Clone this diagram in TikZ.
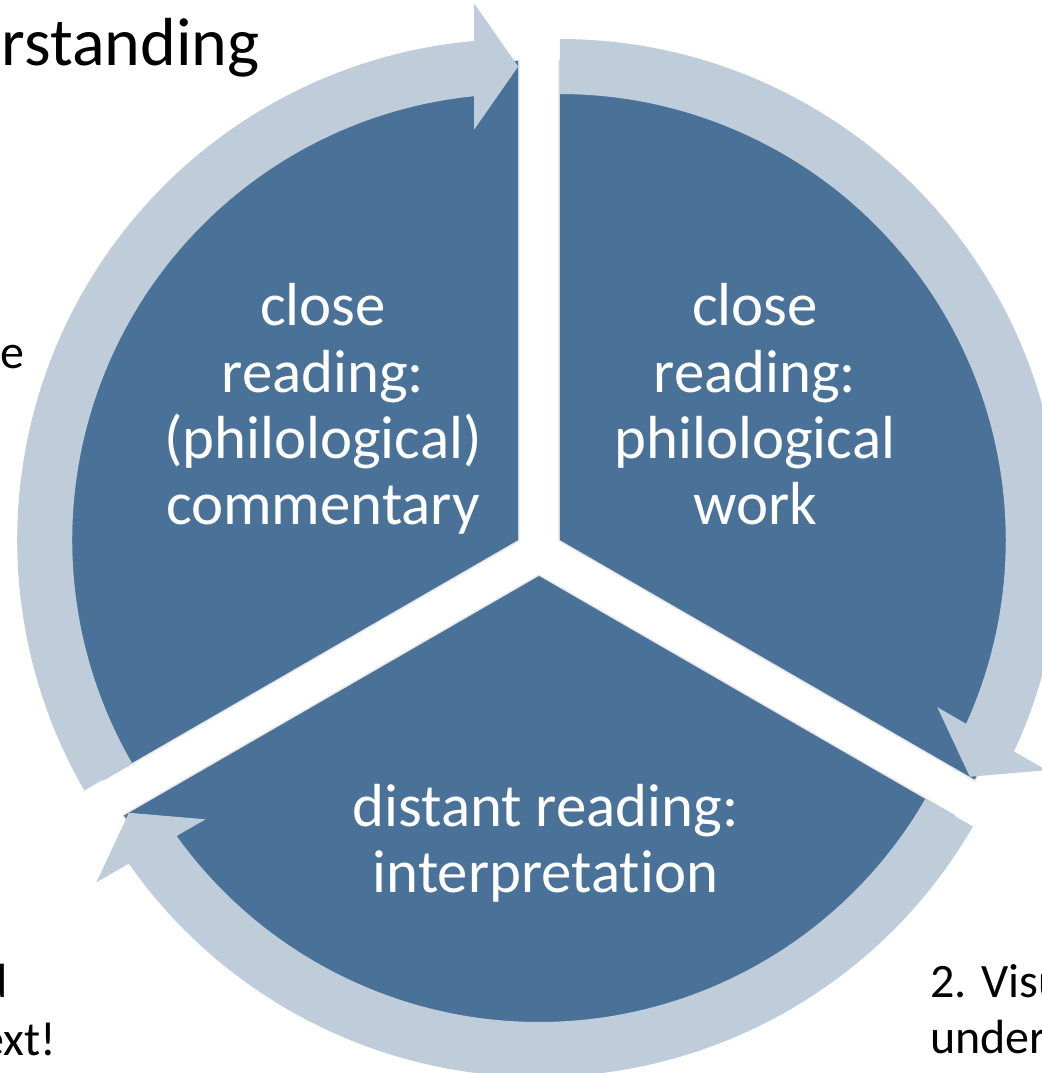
\documentclass[tikz,border=0pt]{standalone}
\usepackage{fontspec}
\setmainfont{Carlito}[Ligatures=NoCommon]

\definecolor{wedgeblue}{RGB}{74,114,152}
\definecolor{ringblue}{RGB}{191,205,218}

\tikzset{
    wedge/.style={fill=wedgeblue, preaction={draw=black!10, line width=1.5pt}},
    ring/.style={fill=ringblue},
    wedgetext/.style={text=white, align=center, inner sep=0pt, font=\fontsize{30.4}{33.2}\selectfont},
    sidetext/.style={text=black, inner sep=0pt, font=\fontsize{24}{28}\selectfont},
    titletext/.style={text=black, inner sep=0pt, font=\fontsize{34}{40}\selectfont}
}

\begin{document}
\begin{tikzpicture}[x=0.5pt, y=0.5pt]
        \useasboundingbox (-539,-521) rectangle (502,552);

        % wedges
        \begin{scope}[rotate=0, shift={(150:24)}]
            \path[wedge] (0,0) -- (90:479) arc[start angle=90, end angle=210, radius=479] -- cycle;
        \end{scope}
        \begin{scope}[rotate=-120, shift={(150:24)}]
            \path[wedge] (0,0) -- (90:479) arc[start angle=90, end angle=210, radius=479] -- cycle;
        \end{scope}
        \begin{scope}[rotate=120, shift={(150:24)}]
            \path[wedge] (0,0) -- (90:479) arc[start angle=90, end angle=210, radius=479] -- cycle;
        \end{scope}

        % arrows round the wedges
        \begin{scope}[rotate=0, shift={(150:24)}]
            \path[ring] (210:501) arc[start angle=210, end angle=95.04, radius=501]
                -- (-44,536.5) -- (0,473.5) -- (-44,410.5)
                -- (95.66:446) arc[start angle=95.66, end angle=210, radius=446] -- cycle;
        \end{scope}
        \begin{scope}[rotate=-120, shift={(150:24)}]
            \path[ring] (210:501) arc[start angle=210, end angle=95.04, radius=501]
                -- (-44,536.5) -- (0,473.5) -- (-44,410.5)
                -- (95.66:446) arc[start angle=95.66, end angle=210, radius=446] -- cycle;
        \end{scope}
        \begin{scope}[rotate=120, shift={(150:24)}]
            \path[ring] (210:501) arc[start angle=210, end angle=95.04, radius=501]
                -- (-44,536.5) -- (0,473.5) -- (-44,410.5)
                -- (95.66:446) arc[start angle=95.66, end angle=210, radius=446] -- cycle;
        \end{scope}

        \node (commentary) at (-216,269) [wedgetext, anchor=north] {close\\reading:\\(philological)\\commentary};
        \node (philwork) at (216,269) [wedgetext, anchor=north] {close\\reading:\\philological\\work};
        \node (interp) at (6.5,-291) [wedgetext] {distant reading:\\interpretation};

        \node (title) at (-279,487) [titletext, anchor=base east] {rstanding};
        \node (lefttop) at (-514,184) [sidetext, anchor=base east] {e};
        \node (leftmid) at (-531,-445) [sidetext, anchor=base east] {d};
        \node (leftlow) at (-482,-503) [sidetext, anchor=base east] {ext!};
        \node (rightup) at (391,-445) [sidetext, anchor=base west] {2. Visu};
        \node (rightlow) at (391,-501) [sidetext, anchor=base west] {under};
    \end{tikzpicture}
\end{document}
